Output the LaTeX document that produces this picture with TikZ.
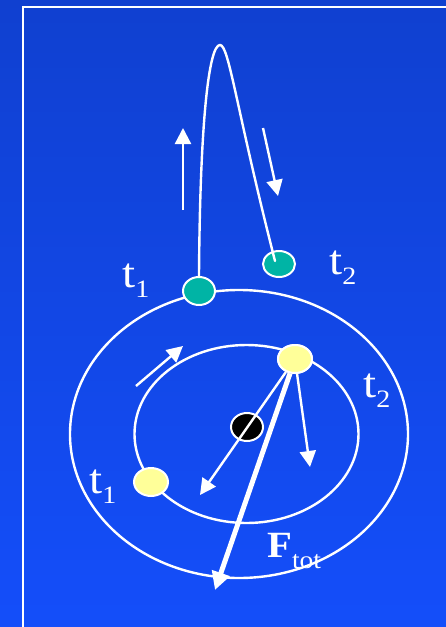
\documentclass[tikz,border=0pt]{standalone}
\usepackage{fontspec}
\setmainfont{Liberation Serif}
\usetikzlibrary{shapes.geometric,arrows.meta}
\definecolor{bgtop}{RGB}{16,64,208}
\definecolor{bgbot}{RGB}{20,78,250}
\definecolor{tealball}{RGB}{0,180,165}
\definecolor{yelball}{RGB}{255,255,153}
\newcommand{\lblt}[2]{\scalebox{1.12}[1]{\fontsize{42}{42}\selectfont #1\raisebox{-10pt}{\fontsize{25}{25}\selectfont #2}}}
\begin{document}
\begin{tikzpicture}[x=1pt,y=-1pt,
  wl/.style={draw=white,line width=2.4pt},
  orbit/.style={ellipse,draw=white,line width=2.4pt,inner sep=0pt},
  ball/.style={ellipse,draw=white,line width=2pt,inner sep=0pt,minimum width=33pt,minimum height=28pt},
  arr/.style={white,line width=2.4pt,-{Triangle[length=16pt,width=16pt]}},
  bigarr/.style={white,line width=5pt,-{Triangle[length=18pt,width=18pt]}},
  lbl/.style={text=white,anchor=base west,inner sep=0pt}]
\useasboundingbox (0,0) rectangle (446,627);
\shade[top color=bgtop,bottom color=bgbot] (0,0) rectangle (446,627);
\draw[white,line width=2pt] (23,627) -- (23,7) -- (446,7);
% orbits
\node[orbit,minimum width=338pt,minimum height=288pt] (outer) at (239,434) {};
\node[orbit,minimum width=224pt,minimum height=178pt] (inner) at (246.5,434) {};
% balls
\node[ball,fill=tealball,minimum width=32pt] (tA) at (199,291) {};
\node[ball,fill=tealball,minimum width=32pt,minimum height=26pt] (tB) at (279,264) {};
\node[ball,fill=black,minimum width=32pt] (sun) at (247,427) {};
\node[ball,fill=yelball,minimum width=34pt] (yTop) at (295,359) {};
\node[ball,fill=yelball,minimum width=34pt] (yLeft) at (151,482) {};
% trajectory
\coordinate (peak) at (220,45);
\coordinate (tEnd) at (275,261);
\draw[wl,line cap=round] (tA.north) .. controls (200,120) and (209,45) .. (peak)
   .. controls (229,45) and (236,108) .. (tEnd);
% motion arrows
\coordinate (upA) at (183,210); \coordinate (upB) at (183,128);
\coordinate (dnA) at (263,128); \coordinate (dnB) at (278,196);
\coordinate (orA) at (136,386); \coordinate (orB) at (183,346);
\draw[arr] (upA) -- (upB);
\draw[arr] (dnA) -- (dnB);
\draw[arr] (orA) -- (orB);
% force arrows
\coordinate (f1) at (200,495);
\coordinate (f2) at (310,467);
\coordinate (f3) at (215,590);
\draw[arr] (yTop) -- (f1);
\draw[arr] (yTop) -- (f2);
\draw[bigarr] (yTop) -- (f3);
\node[ball,fill=yelball,minimum width=34pt] at (yTop) {};
% labels
\node[lbl] (l1) at (122,287) {\lblt{t}{1}};
\node[lbl] (l2) at (329,274) {\lblt{t}{2}};
\node[lbl] (l3) at (363,397) {\lblt{t}{2}};
\node[lbl] (l4) at (89,493) {\lblt{t}{1}};
\node[lbl] (lF) at (267,557) {\scalebox{1.1}[1]{\fontsize{37}{37}\selectfont\bfseries F\raisebox{-11pt}{\fontsize{25}{25}\selectfont\mdseries tot}}};
\end{tikzpicture}
\end{document}
